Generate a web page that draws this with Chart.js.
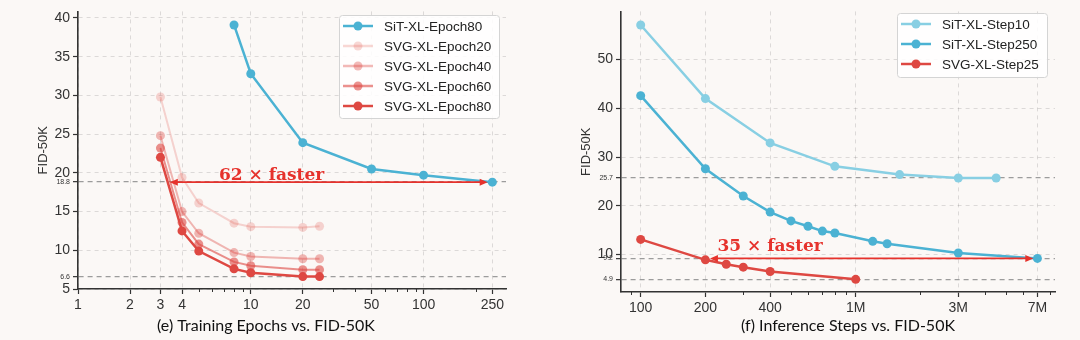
<!DOCTYPE html>
<html>
<head>
<meta charset="utf-8">
<script src="https://cdn.jsdelivr.net/npm/chart.js@4.4.1/dist/chart.umd.min.js"></script>
<style>
  html, body { margin: 0; padding: 0; background: #fbf8f6; }
  #wrap { position: relative; width: 1080px; height: 340px; }
  .pane { position: absolute; top: 0; width: 540px; height: 340px; }
</style>
</head>
<body>
<div id="wrap">
  <div class="pane" style="left:0"><canvas id="epochChart" width="540" height="340"></canvas></div>
  <div class="pane" style="left:540px"><canvas id="stepChart" width="540" height="340"></canvas></div>
</div>
<script>
// (e) FID-50K against training epochs
var sitEpochs = [8, 10, 20, 50, 100, 250];
var sitEpochFid = [39.1, 32.8, 23.9, 20.5, 19.7, 18.8];
var svgEpochs = [3, 4, 5, 8, 10, 20, 25];
var svgEpoch20Fid = [29.8, 19.4, 16.1, 13.5, 13.05, 12.95, 13.1];
var svgEpoch40Fid = [24.8, 15.0, 12.2, 9.7, 9.2, 8.9, 8.9];
var svgEpoch60Fid = [23.2, 13.6, 10.8, 8.5, 8.0, 7.5, 7.5];
var svgEpoch80Fid = [22.0, 12.5, 9.9, 7.6, 7.1, 6.6, 6.6];
var epochTicks = [1, 2, 3, 4, 10, 20, 50, 100, 250];
var epochMinorTicks = [5, 6, 7, 8, 9, 30, 40, 60, 70, 80, 90, 200];
var epochFidTicks = [5, 10, 15, 20, 25, 30, 35, 40];
var epochRefLines = [6.6, 18.8];

// (f) FID-50K against inference steps (in thousands)
var sitStep10 = [100, 200, 400, 800, 1600, 3000, 4500];
var sitStep10Fid = [57.1, 42.0, 32.9, 28.1, 26.4, 25.7, 25.7];
var sitStep250 = [100, 200, 300, 400, 500, 600, 700, 800, 1200, 1400, 3000, 7000];
var sitStep250Fid = [42.6, 27.6, 22.0, 18.7, 16.9, 15.8, 14.8, 14.4, 12.7, 12.2, 10.3, 9.2];
var svgStep25 = [100, 200, 250, 300, 400, 1000];
var svgStep25Fid = [13.1, 8.9, 8.0, 7.4, 6.5, 4.9];
var stepTicks = [100, 200, 400, 1000, 3000, 7000];
var stepTickLabels = ['100', '200', '400', '1M', '3M', '7M'];
var stepMinorTicks = [90, 300, 500, 600, 700, 800, 900, 2000, 4000, 5000, 6000, 8000];
var stepFidTicks = [10, 20, 30, 40, 50];
var stepRefLines = [4.9, 9.2, 25.7];

var BLUE = '#4bb2d3';
var LIGHT_BLUE = '#88cfe3';
var RED = 'rgb(222,72,66)';
var ARROW_RED = '#e6322c';
var INK = '#333';
var GRID = 'rgba(0,0,0,0.12)';

function pts(xs, ys) {
  return xs.map(function (x, i) { return { x: x, y: ys[i] }; });
}

function series(label, xs, ys, color, width) {
  return {
    label: label,
    data: pts(xs, ys),
    borderColor: color,
    backgroundColor: color,
    pointBackgroundColor: color,
    pointBorderWidth: 0,
    pointRadius: 4.5,
    borderWidth: width || 2.5,
    tension: 0
  };
}

// arrows, labels, legend box, x title and minor ticks
var extrasPlugin = {
  id: 'extras',
  afterDraw: function (chart, args, o) {
    var ctx = chart.ctx, xs = chart.scales.x, ys = chart.scales.y;
    var area = chart.chartArea;
    ctx.save();

    // minor ticks on the log axis
    ctx.strokeStyle = INK;
    ctx.lineWidth = 1;
    o.minor.forEach(function (v) {
      var px = Math.round(xs.getPixelForValue(v)) + 0.5;
      ctx.beginPath();
      ctx.moveTo(px, area.bottom);
      ctx.lineTo(px, area.bottom + 3);
      ctx.stroke();
    });

    // double headed arrow
    var ay = ys.getPixelForValue(o.arrow.y);
    var ax0 = xs.getPixelForValue(o.arrow.from);
    var ax1 = xs.getPixelForValue(o.arrow.to);
    ctx.strokeStyle = ARROW_RED;
    ctx.fillStyle = ARROW_RED;
    ctx.lineWidth = 1.6;
    ctx.beginPath();
    ctx.moveTo(ax0 + 5, ay);
    ctx.lineTo(ax1 - 5, ay);
    ctx.stroke();
    [[ax0, -1], [ax1, 1]].forEach(function (h) {
      ctx.beginPath();
      ctx.moveTo(h[0], ay);
      ctx.lineTo(h[0] - h[1] * 8, ay - 3.5);
      ctx.lineTo(h[0] - h[1] * 8, ay + 3.5);
      ctx.closePath();
      ctx.fill();
    });
    ctx.font = 'bold 17px "DejaVu Serif"';
    ctx.textAlign = 'center';
    ctx.textBaseline = 'alphabetic';
    ctx.fillText(o.note.text, xs.getPixelForValue(o.note.x), ay + o.note.dy);

    // legend
    var L = o.legend;
    ctx.fillStyle = 'rgba(255,255,255,0.85)';
    ctx.strokeStyle = '#d4d4d4';
    ctx.lineWidth = 1;
    ctx.beginPath();
    ctx.roundRect(L.x + 0.5, L.y + 0.5, L.w, L.h, 3);
    ctx.fill();
    ctx.stroke();
    ctx.font = '13.5px "Liberation Sans"';
    ctx.textAlign = 'left';
    ctx.textBaseline = 'middle';
    chart.data.datasets.forEach(function (ds, i) {
      var cy = L.y + L.first + i * L.step;
      var lx = L.x + 4;
      ctx.strokeStyle = ds.borderColor;
      ctx.fillStyle = ds.borderColor;
      ctx.lineWidth = 2.5;
      ctx.beginPath();
      ctx.moveTo(lx, cy);
      ctx.lineTo(lx + 30, cy);
      ctx.stroke();
      ctx.beginPath();
      ctx.arc(lx + 15, cy, 4.5, 0, Math.PI * 2);
      ctx.fill();
      ctx.fillStyle = '#222';
      ctx.fillText(ds.label, lx + 41, cy + 1);
    });

    // x title
    ctx.fillStyle = '#111';
    ctx.font = '16px Lato';
    ctx.textAlign = 'center';
    ctx.textBaseline = 'alphabetic';
    ctx.fillText(o.title.text, o.title.x, o.title.y);
    ctx.restore();
  }
};

function makeOptions(c) {
  var isRef = function (ctx) { return ctx.tick && c.refLines.indexOf(ctx.tick.value) >= 0; };
  return {
    responsive: false,
    animation: false,
    layout: { padding: { left: 0, right: c.padRight, top: c.padTop, bottom: 0 } },
    plugins: {
      legend: { display: false },
      tooltip: { enabled: false },
      extras: c.extras
    },
    scales: {
      x: {
        type: 'logarithmic',
        min: c.xMin,
        max: c.xMax,
        afterBuildTicks: function (s) { s.ticks = c.xTicks.map(function (v) { return { value: v }; }); },
        afterFit: function (s) { s.height = c.xHeight; },
        ticks: {
          autoSkip: false,
          maxRotation: 0,
          padding: 3,
          color: INK,
          font: { family: 'Liberation Sans', size: 14 },
          callback: function (v) { return c.xLabels[c.xTicks.indexOf(v)]; }
        },
        grid: { color: GRID, lineWidth: 1, tickColor: INK, tickLength: 5, tickWidth: 1.2 },
        border: { color: INK, width: 1.6, dash: [4, 4] }
      },
      y: {
        type: 'linear',
        min: c.yMin,
        max: c.yMax,
        afterBuildTicks: function (s) {
          s.ticks = c.yTicks.concat(c.refLines).sort(function (a, b) { return a - b; })
            .map(function (v) { return { value: v }; });
        },
        afterFit: function (s) { s.width = c.yWidth; },
        title: {
          display: true,
          text: 'FID-50K',
          color: INK,
          font: { family: 'Liberation Sans', size: 13 },
          padding: { top: c.yTitlePad, bottom: 0 }
        },
        ticks: {
          autoSkip: false,
          padding: 3,
          color: INK,
          font: function (ctx) {
            return isRef(ctx) ? { family: 'Liberation Sans', size: 7 } : { family: 'Liberation Sans', size: 14 };
          },
          callback: function (v) { return String(v); }
        },
        grid: {
          color: function (ctx) { return isRef(ctx) ? '#9c9c9c' : GRID; },
          lineWidth: function (ctx) { return isRef(ctx) ? 1.3 : 1; },
          tickColor: INK,
          tickLength: 5,
          tickWidth: 1.2
        },
        border: {
          color: INK,
          width: 1.6,
          dash: function (ctx) { return isRef(ctx) ? [5, 4] : [4, 4]; }
        }
      }
    }
  };
}

new Chart(document.getElementById('epochChart'), {
  type: 'line',
  data: {
    datasets: [
      series('SiT-XL-Epoch80', sitEpochs, sitEpochFid, BLUE, 2.5),
      series('SVG-XL-Epoch20', svgEpochs, svgEpoch20Fid, 'rgba(222,72,66,0.22)', 2),
      series('SVG-XL-Epoch40', svgEpochs, svgEpoch40Fid, 'rgba(222,72,66,0.38)', 2),
      series('SVG-XL-Epoch60', svgEpochs, svgEpoch60Fid, 'rgba(222,72,66,0.6)', 2),
      series('SVG-XL-Epoch80', svgEpochs, svgEpoch80Fid, RED, 2.5)
    ]
  },
  options: makeOptions({
    padRight: 34, padTop: 7, xHeight: 51, yWidth: 78, yTitlePad: 36,
    xMin: 1, xMax: 300, yMin: 5, yMax: 40.85,
    xTicks: epochTicks, xLabels: epochTicks.map(String),
    yTicks: epochFidTicks, refLines: epochRefLines,
    extras: {
      minor: epochMinorTicks,
      arrow: { from: 3.4, to: 235, y: 18.8 },
      note: { text: '62 × faster', x: 13.2, dy: -2.5 },
      legend: { x: 339, y: 15, w: 160, h: 103, first: 11, step: 20 },
      title: { text: '(e) Training Epochs vs. FID-50K', x: 266, y: 331 }
    }
  }),
  plugins: [extrasPlugin]
});

new Chart(document.getElementById('stepChart'), {
  type: 'line',
  data: {
    datasets: [
      series('SiT-XL-Step10', sitStep10, sitStep10Fid, LIGHT_BLUE, 2.5),
      series('SiT-XL-Step250', sitStep250, sitStep250Fid, BLUE, 2.5),
      series('SVG-XL-Step25', svgStep25, svgStep25Fid, RED, 2.5)
    ]
  },
  options: makeOptions({
    padRight: 25, padTop: 5, xHeight: 48, yWidth: 81, yTitlePad: 39,
    xMin: 81, xMax: 8450, yMin: 2.3, yMax: 59.9,
    xTicks: stepTicks, xLabels: stepTickLabels,
    yTicks: stepFidTicks, refLines: stepRefLines,
    extras: {
      minor: stepMinorTicks,
      arrow: { from: 210, to: 6700, y: 9.2 },
      note: { text: '35 × faster', x: 400, dy: -7 },
      legend: { x: 357, y: 13, w: 150, h: 64, first: 11, step: 20 },
      title: { text: '(f) Inference Steps vs. FID-50K', x: 308, y: 331 }
    }
  }),
  plugins: [extrasPlugin]
});
</script>
</body>
</html>
